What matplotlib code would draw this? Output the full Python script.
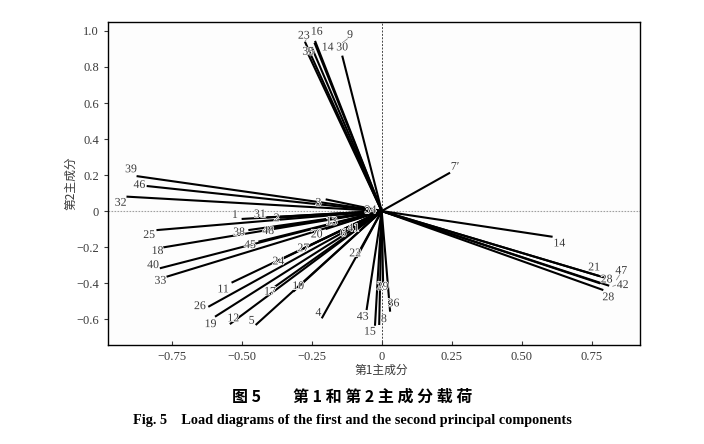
"""Loading plot of PC1 vs PC2 (Fig. 5)."""

import matplotlib as mpl
import matplotlib.pyplot as plt
import matplotlib.patheffects as pe

mpl.rcParams.update({
    "font.family": ["Liberation Serif", "Noto Sans CJK SC", "DejaVu Sans"],
    "font.size": 8.5,
    "axes.linewidth": 1.0,
})

# variable names and loadings on the 1st / 2nd principal components
var_names = ["23", "16", "35", "14", "30", "9",
             "39", "46", "32", "3", "1", "31", "2", "25", "38", "48", "18", "45",
             "40", "33", "13", "20", "6", "41", "34", "27", "24", "11", "26",
             "19", "12", "5", "17", "10", "4", "22", "43", "15", "8", "29", "36",
             "7\u2032", "14", "21", "28", "47", "42", "28"]
pc1 = [-0.274, -0.238, -0.265, -0.250, -0.141, -0.240,
       -0.875, -0.839, -0.911, -0.200, -0.500, -0.410, -0.363, -0.804, -0.476, -0.420, -0.780, -0.440,
       -0.792, -0.768, -0.170, -0.200, -0.130, -0.090, -0.020, -0.270, -0.360, -0.536, -0.619,
       -0.595, -0.542, -0.450, -0.381, -0.316, -0.214, -0.090, -0.054, -0.024, -0.009, 0.005, 0.030,
       0.244, 0.610, 0.777, 0.780, 0.800, 0.812, 0.791]
pc2 = [0.940, 0.945, 0.880, 0.910, 0.863, 0.935,
       0.194, 0.139, 0.080, 0.065, -0.044, -0.035, -0.037, -0.106, -0.106, -0.100, -0.202, -0.170,
       -0.318, -0.365, -0.040, -0.100, -0.110, -0.090, 0.000, -0.200, -0.270, -0.398, -0.532,
       -0.587, -0.628, -0.633, -0.420, -0.448, -0.596, -0.260, -0.550, -0.637, -0.633, -0.400, -0.559,
       0.213, -0.143, -0.361, -0.402, -0.372, -0.415, -0.439]

# label offsets (data units) relative to the vector tip
lab_dx = [-0.004, 0.006, 0.003, 0.057, 0.000, 0.127,
          -0.020, -0.026, -0.021, -0.026, -0.024, -0.025, -0.012, -0.026, -0.033, 0.015, -0.020, -0.030,
          -0.024, -0.022, -0.009, -0.032, -0.007, -0.011, -0.020, -0.010, -0.009, -0.030, -0.030,
          -0.016, 0.012, -0.014, -0.018, 0.018, -0.012, -0.005, -0.014, -0.018, 0.017, -0.002, 0.012,
          0.018, 0.024, -0.019, 0.023, 0.055, 0.048, 0.018]
lab_dy = [0.034, 0.051, 0.005, -0.001, 0.046, 0.043,
          0.038, 0.006, -0.034, -0.019, 0.022, 0.017, -0.003, -0.027, -0.012, -0.011, -0.020, -0.019,
          0.018, -0.022, -0.019, -0.030, -0.014, -0.006, 0.005, -0.007, -0.010, -0.037, 0.004,
          -0.041, 0.032, 0.024, -0.028, 0.031, 0.031, 0.025, -0.037, -0.033, 0.033, -0.020, 0.046,
          0.033, -0.037, 0.048, 0.022, 0.040, 0.004, -0.040]

TXT = "#3a3a3a"

fig = plt.figure(figsize=(7.04, 4.44), dpi=100)
ax = fig.add_axes([0.1534, 0.223, 0.7557, 0.7275])

ax.axhline(0, color="#a0a0a0", lw=0.8, ls=(0, (1.5, 1.2)), zorder=1)
ax.axvline(0, color="#444", lw=0.7, ls=(0, (2, 1.5)), zorder=1)

halo = [pe.withStroke(linewidth=1.0, foreground="white")]
for name, x, y, dx, dy in zip(var_names, pc1, pc2, lab_dx, lab_dy):
    ax.plot([0, x], [0, y], color="black", lw=1.5, solid_capstyle="butt", zorder=2)
    ax.text(x + dx, y + dy, name, ha="center", va="center", color=TXT,
            fontsize=8.5, zorder=3, path_effects=halo)

# a few thin leader lines as in the original
for (x0, y0), (x1, y1) in [((-0.118, 0.962), (-0.140, 0.935)),
                           ((-0.268, 0.955), (-0.274, 0.942)),
                           ((0.850, -0.352), (0.838, -0.382)),
                           ((0.835, -0.412), (0.825, -0.418))]:
    ax.plot([x0, x1], [y0, y1], color="#888", lw=0.6, zorder=2)

ax.set_xlim(-0.977, 0.922)
ax.set_ylim(-0.744, 1.05)
ax.set_xticks([-0.75, -0.5, -0.25, 0, 0.25, 0.5, 0.75])
ax.set_xticklabels(["\u22120.75", "\u22120.50", "\u22120.25", "0", "0.25", "0.50", "0.75"])
ax.set_yticks([-0.6, -0.4, -0.2, 0, 0.2, 0.4, 0.6, 0.8, 1.0])
ax.set_yticklabels(["\u22120.6", "\u22120.4", "\u22120.2", "0", "0.2", "0.4", "0.6", "0.8", "1.0"])
ax.tick_params(axis="x", direction="in", length=3, colors=TXT, labelsize=9, pad=4)
ax.tick_params(axis="y", direction="out", length=3, colors=TXT, labelsize=9)
ax.set_facecolor("#fdfdfd")

cjk = ["Noto Sans CJK SC", "DejaVu Sans"]
ax.set_xlabel("第1主成分", family=cjk, fontsize=8.5, color=TXT)
ax.xaxis.set_label_coords(0.5145, -0.058)
ax.set_ylabel("第2主成分", family=cjk, fontsize=8.5, color=TXT)
ax.yaxis.set_label_coords(-0.058, 0.5)

fig.text(0.5, 0.106, "图 5\u3000\u3000第 1 和 第 2 主 成 分 载 荷", ha="center", va="center",
         family=cjk, fontsize=11.5, fontweight="bold")
fig.text(0.5, 0.054, "Fig. 5\u2003Load diagrams of the first and the second principal components",
         ha="center", va="center", family=["Liberation Serif"], fontsize=10.3,
         fontweight="bold")

fig.savefig("out.png", dpi=100)
